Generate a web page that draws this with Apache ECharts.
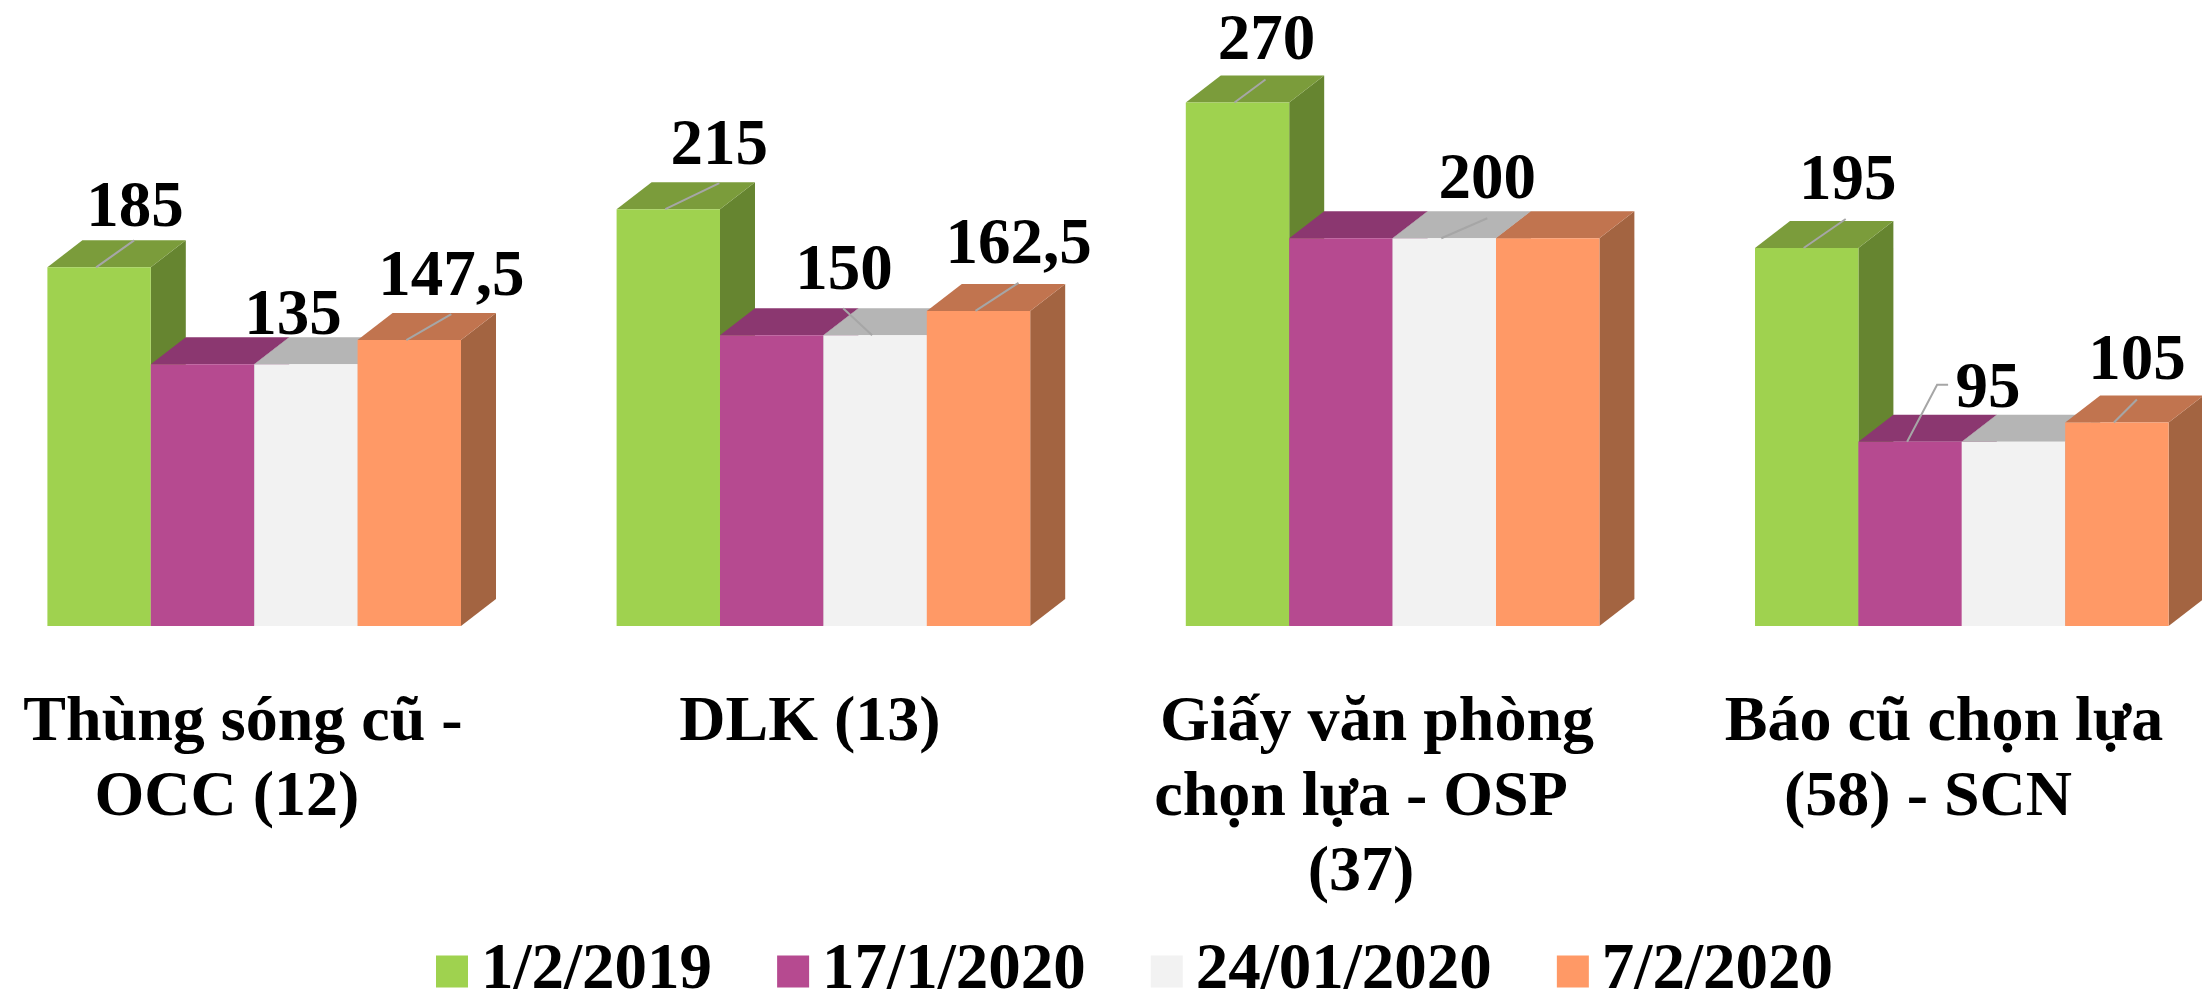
<!DOCTYPE html>
<html>
<head>
<meta charset="utf-8">
<style>
  html, body { margin: 0; padding: 0; background: #fff; }
  #chart { width: 2202px; height: 1000px; }
</style>
<script src="https://cdn.jsdelivr.net/npm/echarts@6/dist/echarts.min.js"></script>
</head>
<body>
<div id="chart"></div>
<script>
const categories = [
  'Thùng sóng cũ -\nOCC (12)',
  'DLK (13)',
  'Giấy văn phòng\nchọn lựa - OSP\n(37)',
  'Báo cũ chọn lựa\n(58) - SCN'
]
const seriesNames = ['1/2/2019', '17/1/2020', '24/01/2020', '7/2/2020']
const values2019Feb = [185, 215, 270, 195]
const values2020Jan17 = [135, 150, 200, 95]
const values2020Jan24 = [135, 150, 200, 95]
const values2020Feb7 = [147.5, 162.5, 200, 105]
const seriesValues = [values2019Feb, values2020Jan17, values2020Jan24, values2020Feb7]

// front, top and side faces of each fake 3d column
const faces = [
  { front: '#9FD24F', top: '#7B9C3B', side: '#668530' },
  { front: '#B64A90', top: '#8B3770', side: '#752E5E' },
  { front: '#F2F2F2', top: '#B5B5B5', side: '#9D9D9D' },
  { front: '#FF9966', top: '#C1744F', side: '#A36441' }
]

const FONT = '"Liberation Serif", "Times New Roman", serif'
const BAR_RATIO = 103.4 / 569.2
const DEPTH_X = 35
const DEPTH_Y = 27

// hand placed data labels: series, category, label offset, leader points (px from top of the column)
const placedLabels = [
  { s: 0, c: 0, at: [36, -58], leader: [[35, -27]] },
  { s: 2, c: 0, at: [-13, -47], leader: [] },
  { s: 3, c: 0, at: [42, -62], leader: [[42, -26]] },
  { s: 0, c: 1, at: [51, -62], leader: [[51, -26]] },
  { s: 2, c: 1, at: [-31, -63], leader: [[-32, -27]] },
  { s: 3, c: 1, at: [40, -65], leader: [[40, -28]] },
  { s: 0, c: 2, at: [29, -60], leader: [[28, -23]] },
  { s: 2, c: 2, at: [43, -57], leader: [[43, -20]] },
  { s: 0, c: 3, at: [41, -66], leader: [[39, -29]] },
  { s: 1, c: 3, at: [78, -52], leader: [[27, -57], [38, -57]] },
  { s: 3, c: 3, at: [20, -60], leader: [[20, -23]] }
]

function renderColumn (params, api) {
  const cat = api.value(0)
  const val = api.value(1)
  const s = params.seriesIndex
  const face = faces[s]
  const center = api.coord([cat, val])
  const baseY = api.coord([cat, 0])[1]
  const w = api.size([1, 0])[0] * BAR_RATIO
  const left = center[0] + (s - 2) * w
  const right = left + w
  const topY = center[1]
  const midX = left + w / 2

  const children = [
    {
      type: 'polygon',
      shape: { points: [[right, topY], [right + DEPTH_X, topY - DEPTH_Y], [right + DEPTH_X, baseY - DEPTH_Y], [right, baseY]] },
      style: { fill: face.side }
    },
    {
      type: 'polygon',
      shape: { points: [[left, topY], [left + DEPTH_X, topY - DEPTH_Y], [right + DEPTH_X, topY - DEPTH_Y], [right, topY]] },
      style: { fill: face.top }
    },
    {
      type: 'rect',
      shape: { x: left, y: topY, width: w, height: baseY - topY },
      style: { fill: face.front }
    }
  ]

  const placed = placedLabels.find(p => p.s === s && p.c === cat)
  if (placed) {
    if (placed.leader.length) {
      const pts = [[midX - 3, topY]].concat(placed.leader.map(p => [midX + p[0], topY + p[1]]))
      children.push({
        type: 'polyline',
        z2: 20,
        shape: { points: pts },
        style: { fill: null, stroke: '#A6A6A6', lineWidth: 2 }
      })
    }
    children.push({
      type: 'text',
      z2: 30,
      style: {
        x: midX + placed.at[0],
        y: topY + placed.at[1],
        text: String(val).replace('.', ','),
        fill: '#000',
        font: 'bold 65px ' + FONT,
        align: 'center',
        verticalAlign: 'middle'
      }
    })
  }
  return { type: 'group', children }
}

const chart = echarts.init(document.getElementById('chart'))

chart.setOption({
  backgroundColor: '#fff',
  animation: false,
  legend: {
    data: seriesNames,
    left: 431,
    top: 934,
    icon: 'rect',
    itemWidth: 32,
    itemHeight: 32,
    itemGap: 65,
    textStyle: {
      fontFamily: FONT,
      fontWeight: 'bold',
      fontSize: 65,
      color: '#000',
      padding: [0, 0, 0, 8]
    }
  },
  grid: [
    { left: -30.4, width: 2276.8, top: 25, height: 601, outerBoundsMode: 'none' },
    { left: -40.5, width: 2268, top: 25, height: 601, outerBoundsMode: 'none' }
  ],
  xAxis: [
    {
      type: 'category',
      gridIndex: 0,
      data: categories,
      axisLine: { show: false },
      axisTick: { show: false },
      axisLabel: { show: false }
    },
    {
      type: 'category',
      gridIndex: 1,
      data: categories,
      axisLine: { show: false },
      axisTick: { show: false },
      axisLabel: {
        interval: 0,
        margin: 60,
        fontFamily: FONT,
        fontWeight: 'bold',
        fontSize: 64,
        lineHeight: 75,
        color: '#000',
        // wrapped lines sit left of the first line in the original, like a trailing space
        formatter: v => v.split('\n').map((line, i) => (i ? line + '  ' : line)).join('\n')
      }
    }
  ],
  yAxis: [
    { type: 'value', gridIndex: 0, min: 0, max: 310, show: false },
    { type: 'value', gridIndex: 1, min: 0, max: 310, show: false }
  ],
  series: seriesValues.map((vals, s) => ({
    type: 'custom',
    name: seriesNames[s],
    xAxisIndex: 0,
    yAxisIndex: 0,
    clip: false,
    itemStyle: { color: faces[s].front },
    renderItem: renderColumn,
    encode: { x: 0, y: 1 },
    data: vals.map((v, i) => [i, v])
  }))
})
</script>
</body>
</html>
